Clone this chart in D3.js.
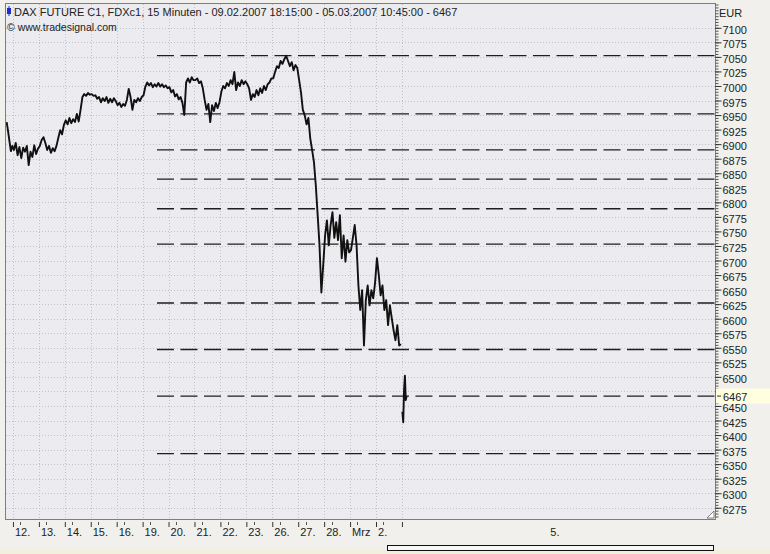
<html>
<head>
<meta charset="utf-8">
<title>DAX FUTURE C1, FDXc1, 15 Minuten</title>
<script src="https://d3js.org/d3.v7.min.js"></script>
<style>
  body { margin: 0; background: #f1f0ec; }
  svg { display: block; font-family: 'Liberation Sans', Arial, sans-serif; }
</style>
</head>
<body>
<script>
// day labels on the time axis (one per trading day)
var dayLabels = ["12.", "13.", "14.", "15.", "16.", "19.", "20.", "21.", "22.", "23.",
                 "26.", "27.", "28.", "Mrz", "2.", "5."];

// closing prices (hourly samples, 15 min bars)
var feb09 = [6938, 6922, 6905, 6888, 6897];
var feb12 = [6890, 6902, 6881, 6895, 6876, 6894, 6887, 6897, 6864, 6887, 6878, 6898, 6883, 6892];
var feb13 = [6897, 6907, 6912, 6902, 6890, 6897, 6885, 6893, 6888, 6897, 6911, 6924, 6917, 6933];
var feb14 = [6941, 6934, 6945, 6936, 6943, 6938, 6952, 6939, 6959, 6981, 6986, 6983, 6988, 6985];
var feb15 = [6986, 6983, 6984, 6978, 6981, 6972, 6979, 6974, 6981, 6971, 6978, 6972, 6979, 6974];
var feb16 = [6967, 6971, 6964, 6969, 6966, 6976, 6995, 6981, 6959, 6976, 6972, 6979, 6974, 6981];
var feb19 = [6984, 6999, 7006, 7001, 7005, 6998, 7003, 6999, 7005, 6999, 7003, 6998, 7001, 6996];
var feb20 = [6998, 6989, 6993, 6982, 6986, 6977, 6981, 6971, 6950, 7006, 7013, 7006, 7015, 7010];
var feb21 = [7010, 7013, 7005, 7008, 6996, 6976, 6959, 6969, 6938, 6967, 6957, 6971, 6962, 6972];
var feb22 = [6990, 7000, 6996, 7005, 7000, 7010, 7003, 7024, 6993, 7006, 7000, 7010, 7003, 7008];
var feb23 = [7003, 6996, 6976, 6986, 6981, 6993, 6984, 6996, 6988, 7000, 6993, 7003, 7006, 7013];
var feb26 = [7013, 7024, 7034, 7031, 7043, 7038, 7046, 7052, 7043, 7034, 7041, 7027, 7036, 7031];
var feb27 = [7010, 6989, 6959, 6950, 6934, 6945, 6910, 6890, 6869, 6829, 6778, 6726, 6645, 6692];
var feb28 = [6743, 6769, 6726, 6761, 6783, 6739, 6766, 6735, 6778, 6704, 6743, 6698, 6735, 6714];
var mar01 = [6718, 6739, 6761, 6726, 6657, 6615, 6649, 6554, 6632, 6657, 6623, 6649, 6635, 6662];
var mar02 = [6704, 6675, 6640, 6657, 6615, 6632, 6589, 6623, 6601, 6580, 6563, 6589, 6554, 6556];
var mar05 = [6440, 6422, 6478, 6502, 6460, 6467];
var lastPrice = 6467;

// horizontal dashed levels
var levels = [7052, 6952, 6890, 6840, 6789, 6728, 6627, 6547, 6467, 6368];

// price axis labels (6475 sits under the last price box)
var yTickValues = [6275, 6300, 6325, 6350, 6375, 6400, 6425, 6450, 6475, 6500, 6525, 6550,
                   6575, 6600, 6625, 6650, 6675, 6700, 6725, 6750, 6775, 6800, 6825, 6850,
                   6875, 6900, 6925, 6950, 6975, 7000, 7025, 7050, 7075, 7100];

var width = 770, height = 554;
var plotL = 6, plotR = 715, plotT = 4, plotB = 519;
var barsPerDay = 56, firstBars = 15, lastBars = 11, totalBars = 1531;
var levelStartBar = 326;

var fullDays = [feb12, feb13, feb14, feb15, feb16, feb19, feb20, feb21, feb22, feb23,
                feb26, feb27, feb28, mar01, mar02];

var dayStarts = dayLabels.map(function(d, i) { return firstBars + i * barsPerDay; });

var seg1 = [];
feb09.forEach(function(v, i) {
  seg1.push({ bar: (i + 0.5) * firstBars / feb09.length, v: v });
});
fullDays.forEach(function(arr, d) {
  arr.forEach(function(v, i) {
    seg1.push({ bar: dayStarts[d] + (i + 0.5) * barsPerDay / arr.length, v: v });
  });
});
var seg2 = mar05.map(function(v, i) {
  return { bar: dayStarts[15] + (i + 0.5) * lastBars / mar05.length, v: v };
});

var x = d3.scaleLinear().domain([0, totalBars]).range([plotL, plotR]);
var y = d3.scaleLinear().domain([6255.7, 7140.9]).range([plotB, plotT]);

var svg = d3.select("body").append("svg")
  .attr("width", width)
  .attr("height", height);

svg.append("rect").attr("width", width).attr("height", height).attr("fill", "#f1f0ec");
svg.append("rect").attr("x", 0).attr("y", 549).attr("width", width).attr("height", 5).attr("fill", "#f4efdc");

// plot area
svg.append("rect")
  .attr("x", plotL).attr("y", plotT)
  .attr("width", plotR - plotL).attr("height", plotB - plotT)
  .attr("fill", "#ecebef");

// grid
svg.append("g").selectAll("line")
  .data(yTickValues)
  .enter().append("line")
  .attr("x1", plotL).attr("x2", plotR)
  .attr("y1", function(d) { return Math.round(y(d)) + 0.5; })
  .attr("y2", function(d) { return Math.round(y(d)) + 0.5; })
  .attr("stroke", "#c4c1c6")
  .attr("stroke-dasharray", "1,2");

svg.append("g").selectAll("line")
  .data(dayStarts)
  .enter().append("line")
  .attr("x1", function(d) { return Math.round(x(d)) + 0.5; })
  .attr("x2", function(d) { return Math.round(x(d)) + 0.5; })
  .attr("y1", plotT).attr("y2", plotB)
  .attr("stroke", "#c4c1c6")
  .attr("stroke-dasharray", "1,2");

// dashed levels
svg.append("g").selectAll("line")
  .data(levels)
  .enter().append("line")
  .attr("x1", x(levelStartBar)).attr("x2", plotR)
  .attr("y1", function(d) { return y(d); })
  .attr("y2", function(d) { return y(d); })
  .attr("stroke", "#1e1e1e")
  .attr("stroke-width", 1.3)
  .attr("stroke-dasharray", "17,6.5");

// price line
var line = d3.line()
  .x(function(d) { return x(d.bar); })
  .y(function(d) { return y(d.v); });

[seg1, seg2].forEach(function(seg) {
  svg.append("path")
    .datum(seg)
    .attr("d", line)
    .attr("fill", "none")
    .attr("stroke", "#111")
    .attr("stroke-width", 1.9)
    .attr("stroke-linejoin", "round");
});

// border
svg.append("rect")
  .attr("x", plotL - 0.5).attr("y", plotT - 0.5)
  .attr("width", plotR - plotL + 1).attr("height", plotB - plotT + 1)
  .attr("fill", "none")
  .attr("stroke", "#dc5656");

// resize corner
svg.append("path")
  .attr("d", "M707,518 L714,511 L714,518 Z")
  .attr("fill", "#fff").attr("stroke", "#666").attr("stroke-width", 0.8);

// price axis
var minor = d3.range(6260, 7141, 5);
svg.append("g")
  .attr("transform", "translate(" + (plotR + 0.5) + ",0)")
  .call(d3.axisRight(y).tickValues(minor).tickSize(3).tickFormat(""))
  .call(function(g) { g.select(".domain").remove(); })
  .selectAll("line").attr("stroke", "#555");

var yAxis = svg.append("g")
  .attr("transform", "translate(" + (plotR + 0.5) + ",0)")
  .call(d3.axisRight(y).tickValues(yTickValues).tickSize(6).tickPadding(1)
    .tickFormat(d3.format("d")))
  .call(function(g) { g.select(".domain").remove(); });
yAxis.selectAll("line").attr("stroke", "#333");
yAxis.selectAll("text")
  .attr("font-size", 11)
  .attr("font-family", "'Liberation Sans', Arial, sans-serif")
  .attr("fill", "#222")
  .attr("dy", "0.5em");
// the last price box covers this label
yAxis.selectAll(".tick").filter(function(d) { return Math.abs(d - lastPrice) < 12.5; })
  .select("text").remove();

svg.append("text")
  .attr("x", 719).attr("y", 17)
  .attr("font-size", 11).attr("fill", "#222")
  .text("EUR");

// last price marker
svg.append("rect")
  .attr("x", 716).attr("y", y(lastPrice) - 7.5)
  .attr("width", 54).attr("height", 15)
  .attr("fill", "#ffffe0");
svg.append("line")
  .attr("x1", 717).attr("x2", 721)
  .attr("y1", y(lastPrice)).attr("y2", y(lastPrice))
  .attr("stroke", "#333");
svg.append("text")
  .attr("x", 723).attr("y", y(lastPrice) + 5)
  .attr("font-size", 11).attr("fill", "#222")
  .text(lastPrice);

// time axis
var xAxis = svg.append("g")
  .attr("transform", "translate(0," + (plotB + 3) + ")")
  .call(d3.axisBottom(x).tickValues(dayStarts).tickSize(5).tickPadding(1)
    .tickFormat(function(d, i) { return dayLabels[i]; }))
  .call(function(g) { g.select(".domain").remove(); });
xAxis.selectAll("line").attr("stroke", "#333");
xAxis.selectAll("text")
  .attr("font-size", 11)
  .attr("font-family", "'Liberation Sans', Arial, sans-serif")
  .attr("fill", "#222")
  .attr("text-anchor", "start")
  .attr("x", 1.5);
xAxis.selectAll(".tick").filter(function(d, i) { return i === dayLabels.length - 1; })
  .select("text")
  .attr("text-anchor", "middle")
  .attr("x", (plotR - x(dayStarts[15])) / 2 - 4);

svg.append("g").selectAll("line")
  .data(dayStarts.slice(0, 15))
  .enter().append("line")
  .attr("x1", function(d) { return Math.round(x(d + 16)) + 0.5; })
  .attr("x2", function(d) { return Math.round(x(d + 16)) + 0.5; })
  .attr("y1", plotB + 3).attr("y2", plotB + 6)
  .attr("stroke", "#555");

// scroll bar
svg.append("rect")
  .attr("x", 387.5).attr("y", 545.5)
  .attr("width", 326).attr("height", 5)
  .attr("fill", "#f7f7f5")
  .attr("stroke", "#111");

// title
svg.append("rect").attr("x", 7).attr("y", 8).attr("width", 4).attr("height", 6).attr("fill", "#1b2fc8");
svg.append("line").attr("x1", 9).attr("x2", 9).attr("y1", 6).attr("y2", 16).attr("stroke", "#1b2fc8");
svg.append("text")
  .attr("x", 14).attr("y", 16)
  .attr("font-size", 11).attr("fill", "#222")
  .text("DAX FUTURE C1, FDXc1, 15 Minuten - 09.02.2007 18:15:00 - 05.03.2007 10:45:00 - 6467");
svg.append("text")
  .attr("x", 7).attr("y", 31)
  .attr("font-size", 10.5).attr("fill", "#222")
  .text("© www.tradesignal.com");
</script>
</body>
</html>
